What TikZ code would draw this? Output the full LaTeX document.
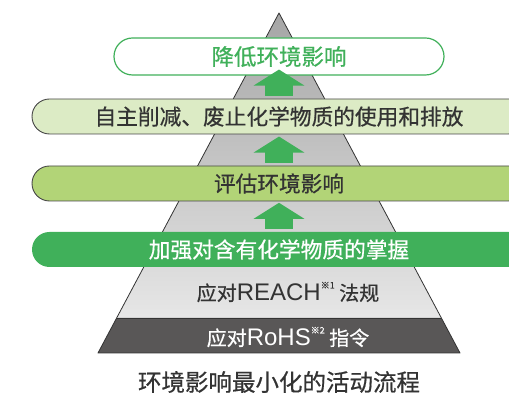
\documentclass[tikz,border=0pt]{standalone}
\usepackage{fontspec}
\setmainfont{Noto Sans CJK SC}[FakeBold=0.6]
\newfontfamily\latinface{Liberation Sans}
\usetikzlibrary{arrows.meta, positioning, calc}
\definecolor{ecogreen}{RGB}{64,176,90}
\definecolor{palegreen}{RGB}{220,235,197}
\definecolor{leafgreen}{RGB}{178,212,119}
\definecolor{inkgray}{RGB}{51,51,51}
\definecolor{slate}{RGB}{89,87,87}
\newcommand{\lat}[1]{{\latinface\fontsize{24}{24}\selectfont #1}}
\newcommand{\note}[1]{\raisebox{1.1ex}{\fontsize{9}{9}\selectfont #1}}

\begin{document}
\begin{tikzpicture}[x=1pt, y=1pt,
  band/.style={rounded corners=17.5pt, minimum height=35pt,
               minimum width=494pt, inner sep=0pt,
               font=\fontsize{21.7}{22}\selectfont},
  rim/.style={draw=inkgray!90, line width=0.9pt},
  upstep/.style={line width=28pt, ecogreen,
                 -{Triangle[width=50pt, length=16pt]}},
  tier/.style={inner sep=0pt, font=\fontsize{20}{20}\selectfont}]
  \clip (0,0) rectangle (509,393);
  \coordinate (apex) at (279,380);
  \coordinate (bl) at (98,40);
  \coordinate (br) at (460,40);
  \coordinate (sl) at ($(apex)!0.897!(bl)$);
  \coordinate (sr) at ($(apex)!0.897!(br)$);

  % pyramid body
  \shade[top color={rgb,255:red,165;green,165;blue,165},
         bottom color={rgb,255:red,238;green,238;blue,238}]
    (apex) -- (br) -- (bl) -- cycle;
  \fill[slate] (sl) -- (sr) -- (br) -- (bl) -- cycle;
  \draw[inkgray, line width=0.8pt] (sl) -- (sr);
  \draw[inkgray, line width=0.8pt, line join=round]
    (apex) -- (br) -- (bl) -- cycle;

  \node[band, draw=ecogreen, line width=1.2pt, fill=white,
        minimum width=330pt, minimum height=37pt,
        rounded corners=18.5pt, text=ecogreen,
        font=\fontsize{22.5}{23}\selectfont]
    (b1) at (279,336.5) {降低环境影响};
  \node[band, rim, fill=palegreen, text=inkgray]
    (b2) at (279,276.5) {自主削减、废止化学物质的使用和排放};
  \node[band, rim, fill=leafgreen, text=inkgray]
    (b3) at (279,209.5) {评估环境影响};
  \node[band, fill=ecogreen, text=white]
    (b4) at (279,143.5) {加强对含有化学物质的掌握};

  \foreach \lo in {b2, b3, b4}
    \draw[upstep] ([yshift=3pt]\lo.north) -- ++(0,26);

  \node[tier, text=inkgray] (reach) at (288,101)
    {应对\lat{REACH}\note{※1} 法规};
  \node[tier, text=white] (rohs) at (288,56)
    {应对\lat{RoHS}\note{※2} 指令};
  \node[inner sep=0pt, text=inkgray, font=\fontsize{23.5}{24}\selectfont]
    (caption) at (279,11) {环境影响最小化的活动流程};
\end{tikzpicture}
\end{document}
